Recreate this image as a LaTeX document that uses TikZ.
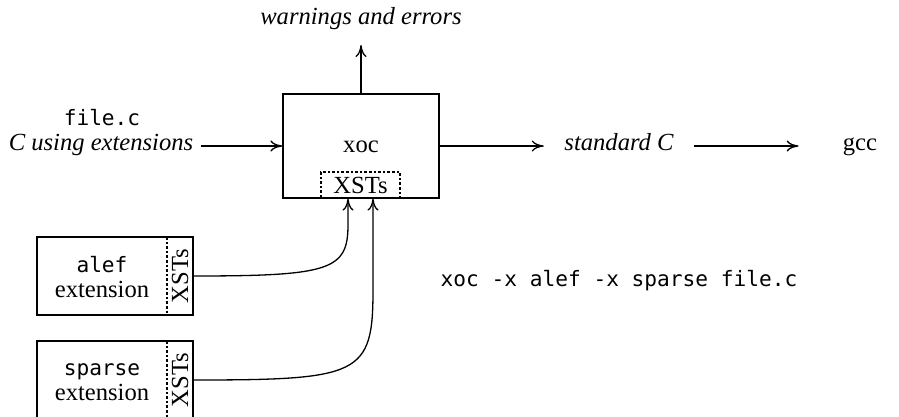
\documentclass[tikz,border=0pt]{standalone}
\usepackage{fontspec}
\setmainfont{Liberation Serif}
\newfontfamily\monofont{DejaVu Sans Mono}[Scale=0.86]
\usetikzlibrary{arrows.meta}
\begin{document}
\begin{tikzpicture}[x=0.5pt,y=-0.5pt,
  line width=0.65pt,
  >={Computer Modern Rightarrow[length=6pt,width=5.5pt]},
  every node/.style={font=\fontsize{12.3pt}{14pt}\selectfont},
  mainbox/.style={draw, minimum width=78pt, minimum height=52pt, inner sep=0pt},
  extbox/.style={draw, minimum width=78pt, minimum height=39pt, inner sep=0pt},
  dashbox/.style={draw, dash pattern=on 1.3pt off 1pt, inner sep=0pt},
  mono/.style={font=\fontsize{12.3pt}{14pt}\selectfont\monofont},
  ital/.style={font=\fontsize{12.3pt}{14pt}\selectfont\itshape}]
\useasboundingbox (0,0) rectangle (899,417);

% main box
\node[mainbox] (xoc) at (361,146) {};
\node[anchor=mid] (xoclabel) at (361,148) {xoc};
\node[dashbox, minimum width=39.5pt, minimum height=13pt] (xsts) at (360.5,185) {XSTs};

% warnings
\node[ital, anchor=base] (warn) at (361,25) {warnings and errors};
\coordinate (warnend) at (361,45);
\draw[->] (xoc.north) -- (warnend);

% input
\node[mono, anchor=base] (filec) at (102,126) {file.c};
\node[ital, anchor=mid] (cusing) at (101,146) {C using extensions};
\draw[->] (cusing.mid east) -- (xoc.west);

% outputs
\node[ital, anchor=mid, inner xsep=10pt] (std) at (619,146) {standard C};
\node[anchor=mid] (gcc) at (860,146) {gcc};
\draw[->] (xoc.east) -- (std.mid west);
\draw[->, shorten >=18.5pt] (std.mid east) -- (gcc.mid west);

% command line
\node[mono, anchor=base] (cmd) at (619,286) {xoc -x alef -x sparse file.c};

% alef extension
\node[extbox] (alef) at (115,276) {};
\node[dashbox, rotate=90, minimum width=39pt, minimum height=13pt] (alefx) at (180,276) {XSTs};
\node[mono, anchor=base] (aleft) at (102,272) {alef};
\node[anchor=base] (alefe) at (102,297) {extension};

% sparse extension
\node[extbox] (sparse) at (115,380) {};
\node[dashbox, rotate=90, minimum width=39pt, minimum height=13pt] (sparsex) at (180,380) {XSTs};
\node[mono, anchor=base] (sparset) at (102,375) {sparse};
\node[anchor=base] (sparsee) at (102,400) {extension};

% connectors
\draw[->] (alef.east) .. controls (330,276) and (348,270) .. (348,225) -- ([xshift=-6.25pt]xsts.south);
\draw[->] (sparse.east) .. controls (360,380) and (373,375) .. (373,290) -- ([xshift=6.25pt]xsts.south);
\end{tikzpicture}
\end{document}
